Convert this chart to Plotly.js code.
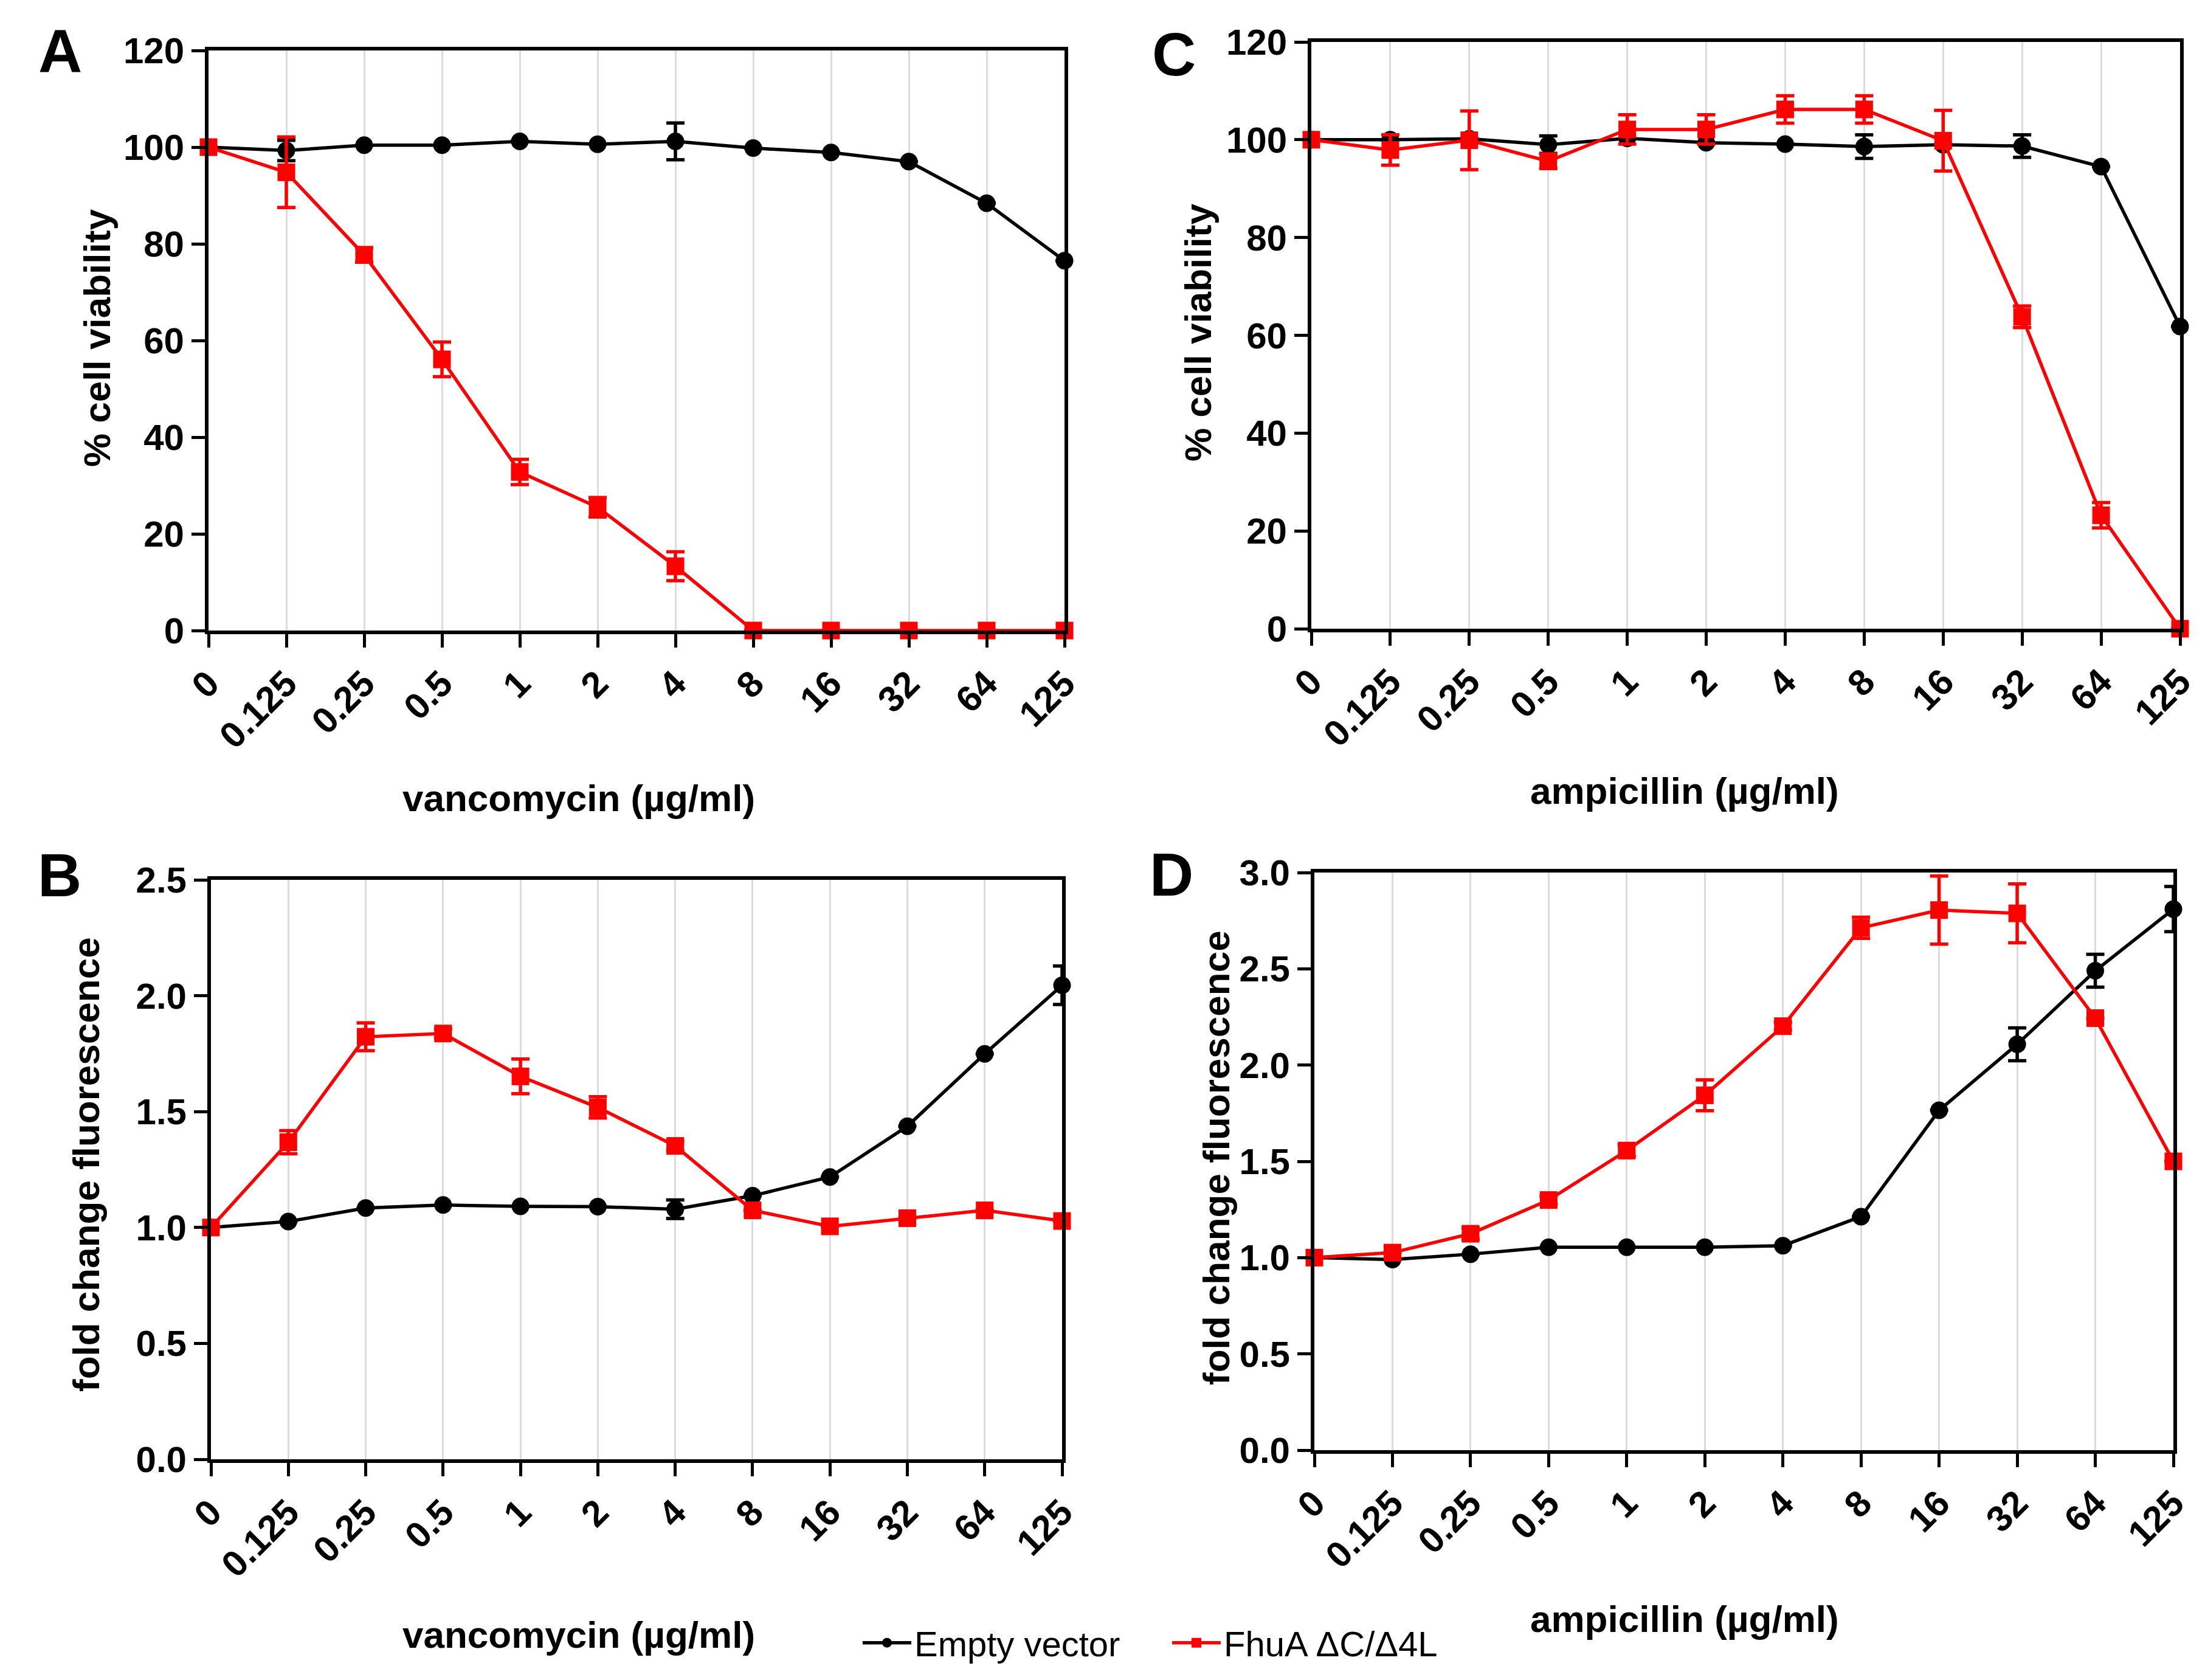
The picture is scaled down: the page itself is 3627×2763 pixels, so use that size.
<!DOCTYPE html>
<html><head><meta charset="utf-8">
<script src="https://cdn.plot.ly/plotly-3.0.1.min.js"></script>
<style>html,body{margin:0;padding:0;background:#fff;} #chart{width:3627px;height:2763px;}</style>
</head><body><div id="chart"></div>
<script>
// ---- categories / tick labels ----
const concentrations = ["0","0.125","0.25","0.5","1","2","4","8","16","32","64","125"];
const seriesNames = ["Empty vector", "FhuA \u0394C/\u03944L"];
const panelLetters = ["A", "B", "C", "D"];
const xTitles = ["vancomycin (\u00b5g/ml)", "vancomycin (\u00b5g/ml)", "ampicillin (\u00b5g/ml)", "ampicillin (\u00b5g/ml)"];
const yTitles = ["% cell viability", "fold change fluorescence", "% cell viability", "fold change fluorescence"];

// ---- Panel A: vancomycin, % cell viability ----
const vancoViabilityEmpty    = [100, 99.3, 100.4, 100.4, 101.2, 100.6, 101.2, 99.8, 98.9, 97.0, 88.4, 76.5];
const vancoViabilityEmptyErr = [null, 2.1, null, null, null, null, 3.8, null, null, null, null, null];
const vancoViabilityFhuA     = [100, 94.8, 77.7, 56.1, 32.8, 25.5, 13.3, 0, 0, 0, 0, 0];
const vancoViabilityFhuAErr  = [null, 7.3, 1.5, 3.6, 2.6, 2.0, 3.0, null, null, null, null, null];

// ---- Panel B: vancomycin, fold change fluorescence ----
const vancoFluorEmpty    = [1.0, 1.026, 1.084, 1.097, 1.091, 1.09, 1.079, 1.137, 1.218, 1.437, 1.749, 2.045];
const vancoFluorEmptyErr = [null, null, null, null, null, null, 0.04, null, null, null, null, 0.083];
const vancoFluorFhuA     = [1.0, 1.368, 1.823, 1.837, 1.652, 1.518, 1.352, 1.074, 1.005, 1.04, 1.074, 1.028];
const vancoFluorFhuAErr  = [null, 0.05, 0.06, 0.02, 0.075, 0.046, 0.02, null, null, null, null, null];

// ---- Panel C: ampicillin, % cell viability ----
const ampViabilityEmpty    = [100, 100, 100.2, 99.0, 100.3, 99.4, 99.1, 98.6, 99.0, 98.7, 94.5, 61.8];
const ampViabilityEmptyErr = [null, null, null, 1.8, null, null, null, 2.4, null, 2.3, null, null];
const ampViabilityFhuA     = [100, 97.9, 99.9, 95.6, 102.1, 102.1, 106.2, 106.2, 99.8, 63.8, 23.2, 0];
const ampViabilityFhuAErr  = [null, 3.1, 6.0, 1.5, 3.0, 3.0, 2.8, 2.8, 6.2, 2.2, 2.6, null];

// ---- Panel D: ampicillin, fold change fluorescence ----
const ampFluorEmpty    = [1.0, 0.99, 1.018, 1.054, 1.054, 1.054, 1.062, 1.213, 1.765, 2.108, 2.49, 2.81];
const ampFluorEmptyErr = [null, null, null, null, null, null, null, null, null, 0.085, 0.085, 0.117];
const ampFluorFhuA     = [1.0, 1.026, 1.124, 1.299, 1.556, 1.843, 2.202, 2.713, 2.805, 2.788, 2.244, 1.5];
const ampFluorFhuAErr  = [null, null, 0.03, 0.02, 0.03, 0.08, 0.02, 0.055, 0.177, 0.153, null, null];

// ---- styling ----
const W = 3627, H = 2763;
const SANS = "'Liberation Sans', Arial, sans-serif";
const BLACK = "#000000", RED = "#ff0000";

function px2x(p) { return p / W; }
function px2y(p) { return 1 - p / H; }

function makeTrace(y, err, color, symbol, name, xa, ya, showlegend) {
  return {
    type: "scatter", mode: "lines+markers",
    x: concentrations, y: y, name: name, xaxis: xa, yaxis: ya,
    showlegend: showlegend, cliponaxis: false,
    line: {color: color, width: 5.5},
    marker: {color: color, size: 29, symbol: symbol},
    error_y: {type: "data", array: err, visible: true, color: color, thickness: 5.5, width: 15}
  };
}

const panels = [
  {xa: "x",  ya: "y",  empty: vancoViabilityEmpty, emptyErr: vancoViabilityEmptyErr, fhu: vancoViabilityFhuA, fhuErr: vancoViabilityFhuAErr},
  {xa: "x2", ya: "y2", empty: vancoFluorEmpty, emptyErr: vancoFluorEmptyErr, fhu: vancoFluorFhuA, fhuErr: vancoFluorFhuAErr},
  {xa: "x3", ya: "y3", empty: ampViabilityEmpty, emptyErr: ampViabilityEmptyErr, fhu: ampViabilityFhuA, fhuErr: ampViabilityFhuAErr},
  {xa: "x4", ya: "y4", empty: ampFluorEmpty, emptyErr: ampFluorEmptyErr, fhu: ampFluorFhuA, fhuErr: ampFluorFhuAErr}
];

const data = [];
panels.forEach((p, i) => {
  data.push(makeTrace(p.empty, p.emptyErr, BLACK, "circle", seriesNames[0], p.xa, p.ya, i === 0));
  data.push(makeTrace(p.fhu, p.fhuErr, RED, "square", seriesNames[1], p.xa, p.ya, i === 0));
});

const tickFont = {family: SANS, size: 60, color: BLACK, weight: "bold"};

function xAxis(l, r, anchor) {
  return {
    domain: [px2x(l), px2x(r)], anchor: anchor, type: "category",
    range: [0, concentrations.length - 1],
    showline: true, linecolor: BLACK, linewidth: 6, mirror: true,
    ticks: "outside", ticklen: 22, tickwidth: 5, tickcolor: BLACK,
    tickangle: -45, tickfont: tickFont,
    showgrid: true, gridcolor: "#dcdcdc", gridwidth: 3,
    zeroline: false, fixedrange: true
  };
}
function yAxis(top, bottom, anchor, max, fmt) {
  return {
    domain: [px2y(bottom), px2y(top)], anchor: anchor,
    range: [0, max], tick0: 0, dtick: max === 120 ? 20 : 0.5, tickformat: fmt,
    showline: true, linecolor: BLACK, linewidth: 6, mirror: true,
    ticks: "outside", ticklen: 22, tickwidth: 5, tickcolor: BLACK,
    tickfont: tickFont, showgrid: false, zeroline: false, fixedrange: true
  };
}

const annotations = [];
function ann(text, x, y, font, angle) {
  annotations.push({text: text, xref: "paper", yref: "paper", x: px2x(x), y: px2y(y),
    xanchor: "center", yanchor: "middle", showarrow: false, font: font, textangle: angle || 0});
}
const letterFont = {family: SANS, size: 100, color: BLACK, weight: "bold"};
const yTitleFont = {family: SANS, size: 62, color: BLACK, weight: "bold"};
const xTitleFont = {family: SANS, size: 62, color: BLACK, weight: "bold"};

// letters
ann(panelLetters[0], 99, 84, letterFont);
ann(panelLetters[1], 98, 1439, letterFont);
ann(panelLetters[2], 1931, 89, letterFont);
ann(panelLetters[3], 1927, 1438, letterFont);
// y titles
ann(yTitles[0], 160, 556, yTitleFont, -90);
ann(yTitles[1], 141, 1915, yTitleFont, -90);
ann(yTitles[2], 1971, 547, yTitleFont, -90);
ann(yTitles[3], 2000, 1904, yTitleFont, -90);
// x titles
ann(xTitles[0], 952, 1312, xTitleFont);
ann(xTitles[1], 952, 2688, xTitleFont);
ann(xTitles[2], 2771, 1300, xTitleFont);
ann(xTitles[3], 2771, 2662, xTitleFont);

const layout = {
  width: W, height: H,
  margin: {l: 0, r: 0, t: 0, b: 0, pad: 0},
  paper_bgcolor: "#ffffff", plot_bgcolor: "#ffffff",
  showlegend: true,
  legend: {
    orientation: "h", x: px2x(1414), xanchor: "left", y: px2y(2702), yanchor: "middle",
    font: {family: SANS, size: 58, color: BLACK},
    itemwidth: 80, entrywidth: 414, entrywidthmode: "pixels",
    bgcolor: "rgba(0,0,0,0)", borderwidth: 0
  },
  xaxis:  xAxis(343, 1751, "y"),
  yaxis:  yAxis(83, 1037, "x", 120, ""),
  xaxis2: xAxis(347, 1747, "y2"),
  yaxis2: yAxis(1447, 2400, "x2", 2.5, ".1f"),
  xaxis3: xAxis(2157, 3586, "y3"),
  yaxis3: yAxis(69, 1034, "x3", 120, ""),
  xaxis4: xAxis(2162, 3575, "y4"),
  yaxis4: yAxis(1435, 2385, "x4", 3.0, ".1f"),
  annotations: annotations
};

Plotly.newPlot("chart", data, layout, {displayModeBar: false, staticPlot: true});
</script>
</body></html>
